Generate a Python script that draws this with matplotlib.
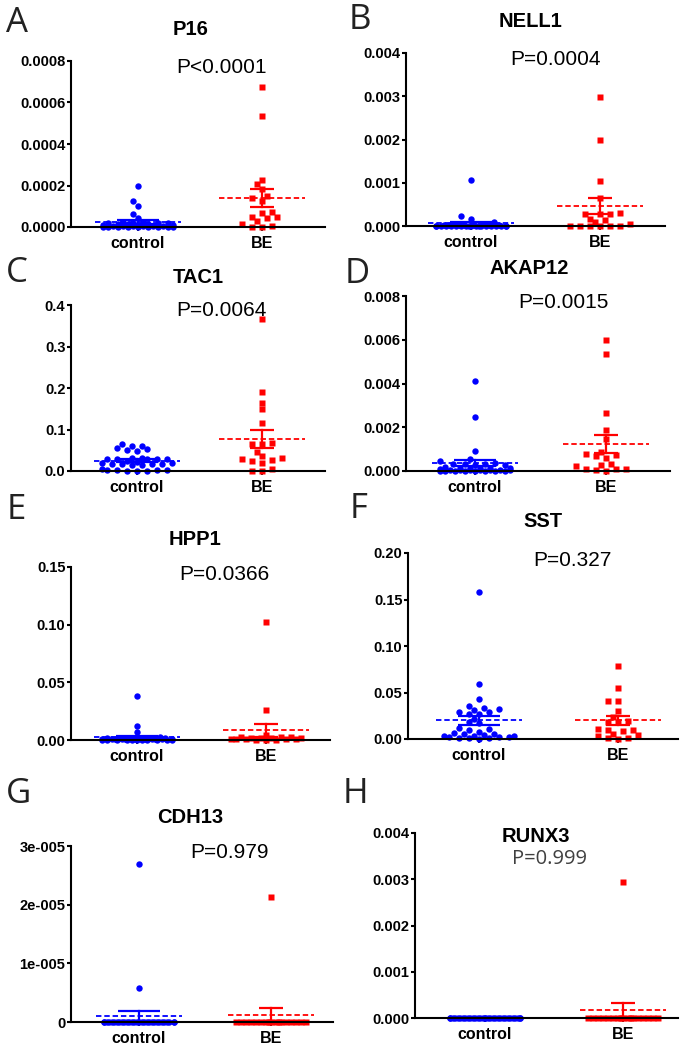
import numpy as np
import matplotlib
matplotlib.use("Agg")
import matplotlib.pyplot as plt

plt.rcParams['font.family'] = ['Liberation Sans', 'DejaVu Sans']

# ---------------- data ----------------
genes = ["P16", "NELL1", "TAC1", "AKAP12", "HPP1", "SST", "CDH13", "RUNX3"]
letters = ["A", "B", "C", "D", "E", "F", "G", "H"]
pvals = ["P<0.0001", "P=0.0004", "P=0.0064", "P=0.0015",
         "P=0.0366", "P=0.327", "P=0.979", "P=0.999"]
groups = ["control", "BE"]

p16_control = [0.000199, 0.000127, 0.000101, 0.000063, 0.000045, 0.000025, 0.000022,
               0.00002, 0.00002, 0.000018, 0.000018, 0.000016, 0.000015, 0.000015,
               0.000012, 0.00001, 0.000008, 0.000006, 0.000005, 0.000004, 0.000004,
               0.000003, 0.000003, 0.000002, 0.000002, 0.000002, 0.000001, 0.000001,
               0.000001, 0.0, 0.0, 0.0]
p16_be = [0.000673, 0.000533, 0.000226, 0.000207, 0.000181, 0.000149, 0.000138,
          0.000125, 0.0000723, 0.0000659, 0.0000466, 0.000048, 0.0000418, 0.0000273,
          0.0000128, 0.000005, 0.0, 0.000002]

nell1_control = [0.001056, 0.000224, 0.000162, 0.0001, 0.00005, 0.00004, 0.00003, 0.00003,
                 0.00002, 0.00002, 0.00002, 0.00002, 0.00002,
                 0.00001, 0.00001, 0.00001, 0.00001, 0.00001, 0.00001, 0.00001,
                 0.000005, 0.000005, 0.000005, 0.000005, 0.000005, 0.000005,
                 0.0, 0.0, 0.0, 0.0, 0.0, 0.0]
nell1_be = [0.002975, 0.00198, 0.001048, 0.000655, 0.000285, 0.00028, 0.000285, 0.00029,
            0.000146, 0.00017, 0.00009, 0.00004, 0.00001, 0.00001, 0.000005, 0.00001,
            0.000005, 0.0]

tac1_control = [0.064, 0.061, 0.06, 0.055, 0.052, 0.05, 0.048,
                0.032, 0.031, 0.03, 0.03, 0.029, 0.028, 0.03,
                0.02, 0.018, 0.017, 0.016, 0.015, 0.014, 0.018, 0.02,
                0.002, 0.001, 0.003, 0.002, 0.001, 0.002, 0.001,
                0.024, 0.022, 0.005]
tac1_be = [0.366, 0.19, 0.165, 0.15, 0.116, 0.068, 0.065, 0.065, 0.046, 0.031, 0.035,
           0.02, 0.026, 0.028, 0.025, 0.006, 0.0, 0.0]

akap12_control = [0.00411, 0.00247, 0.00093, 0.00055, 0.00045,
                  0.00035, 0.00032, 0.0003, 0.0003, 0.00028, 0.00026,
                  0.00018, 0.00016, 0.00015, 0.00014, 0.00013, 0.00012,
                  0.00007, 0.00006, 0.00005, 0.00005, 0.00004, 0.00004, 0.00003, 0.00003,
                  0.00002, 0.00001, 0.00001, 0.00001, 0.0, 0.0, 0.0, 0.0]
akap12_be = [0.00599, 0.00536, 0.00267, 0.00186, 0.00148, 0.00079, 0.00069, 0.00075,
             0.00085, 0.0006, 0.00034, 0.00026, 0.00021, 0.0001, 0.00008, 0.0001, 0.0,
             0.00006]

hpp1_control = [0.0385, 0.0125, 0.0072, 0.0025, 0.002, 0.002, 0.0018, 0.0016, 0.0015,
                0.0014, 0.0012, 0.0012, 0.001, 0.001, 0.0009, 0.0008, 0.0008, 0.0007,
                0.0006, 0.0005, 0.0005, 0.0004, 0.0004, 0.0003, 0.0003, 0.0002, 0.0002,
                0.0001, 0.0001, 0.0, 0.0, 0.0]
hpp1_be = [0.102, 0.026, 0.004, 0.003, 0.003, 0.0025, 0.002, 0.002, 0.0015, 0.0015,
           0.001, 0.001, 0.0008, 0.0005, 0.0005, 0.0003, 0.0002, 0.0]

sst_control = [0.158, 0.059, 0.043, 0.035, 0.033, 0.0325, 0.031, 0.029, 0.029, 0.027,
               0.027, 0.022, 0.018, 0.017, 0.012, 0.011, 0.010, 0.008, 0.006, 0.0057,
               0.005, 0.004, 0.003, 0.003, 0.002, 0.002, 0.001, 0.001, 0.001, 0.0005,
               0.002, 0.003]
sst_be = [0.078, 0.055, 0.041, 0.041, 0.030, 0.024, 0.019, 0.018, 0.018, 0.010, 0.010,
          0.011, 0.0086, 0.004, 0.001, 0.0, 0.001, 0.003, 0.0057]

cdh13_control = [2.69e-5, 5.75e-6] + [0.0] * 30
cdh13_be = [2.13e-5] + [0.0] * 17

runx3_control = [0.0] * 32
runx3_be = [0.00295] + [0.0] * 17

controls = [p16_control, nell1_control, tac1_control, akap12_control,
            hpp1_control, sst_control, cdh13_control, runx3_control]
bes = [p16_be, nell1_be, tac1_be, akap12_be, hpp1_be, sst_be, cdh13_be, runx3_be]

ymax = [0.0008, 0.004, 0.4, 0.008, 0.15, 0.20, 3e-5, 0.004]
ystep = [0.0002, 0.001, 0.1, 0.002, 0.05, 0.05, 1e-5, 0.001]
ydec = [4, 3, 1, 3, 2, 2, None, 3]
cdh13_ticklabels = ["0", "1e-005", "2e-005", "3e-005"]

# ---------------- layout (pixels) ----------------
FW, FH = 691, 1050
boxes = [(71, 325, 61, 227), (406, 665, 53, 226), (71, 325, 305, 471), (406, 670, 296, 471),
         (71, 330, 567, 740), (408, 678, 553, 739), (71, 333, 846, 1022), (415, 678, 833, 1018)]
cat_px = [(138, 262), (471, 600), (137, 262), (475, 606), (137, 266), (479, 618),
          (139, 271), (485, 623)]
title_pos = [(191, 35), (531, 27), (198, 283), (529, 274), (195, 545), (543, 527),
             (190, 823), (536, 842)]
p_pos = [(222, 73), (556, 65), (221, 316), (563, 308), (224, 580), (572, 566),
         (229, 858), (550, 864)]
letter_pos = [(6, 32), (349, 29), (6, 282), (345, 283), (7, 519), (350, 518),
              (6, 803), (343, 803)]

colors = ["#0000FF", "#FF0000"]
markers = ["o", "s"]
msizes = [4.6, 4.3]
cap_half = [21, 12]
mean_half = 43

fig = plt.figure(figsize=(FW / 100, FH / 100), dpi=100)


def swarm(vals, vmax, h_px, d=6.0, step=5.0, half=36.0):
    v = np.asarray(vals, float)
    y = v / vmax * h_px
    order = np.argsort(y, kind="stable")
    cands = [0.0]
    k = 1
    while k * step <= half:
        cands += [-k * step, k * step]
        k += 1
    fine = [0.0]
    k = 1
    while k * step / 2 <= half:
        fine += [-k * step / 2, k * step / 2]
        k += 1
    px, py = [], []
    off = np.zeros(len(v))

    def cost_of(c, yy):
        cost = 0.0
        for qx, qy in zip(px, py):
            dist = np.hypot(c - qx, yy - qy)
            if dist < d:
                cost += d - dist
        return cost

    for i in order:
        best = None
        for c in cands:
            if cost_of(c, y[i]) == 0:
                best = c
                break
        if best is None:
            costs = [cost_of(c, y[i]) for c in fine]
            best = fine[int(np.argmin(costs))]
        off[i] = best
        px.append(best)
        py.append(y[i])
    return off


for p in range(8):
    x0, x1, yt, yz = boxes[p]
    ax = fig.add_axes([x0 / FW, 1 - yz / FH, (x1 - x0) / FW, (yz - yt) / FH])
    c, b = cat_px[p]
    unit = b - c
    xmin = -(c - x0) / unit
    xmax = (x1 - c) / unit
    ax.set_xlim(xmin, xmax)
    ax.set_ylim(0, ymax[p])
    s = (xmax - xmin) / (x1 - x0)  # data units per pixel
    h_px = yz - yt

    for gi, vals in enumerate([controls[p], bes[p]]):
        v = np.asarray(vals, float)
        off = swarm(v, ymax[p], h_px) * s
        ax.plot(gi + off, v, linestyle="none", marker=markers[gi], ms=msizes[gi],
                color=colors[gi], mec="none", clip_on=False, zorder=2)
        m = v.mean()
        sem = v.std(ddof=1) / np.sqrt(len(v))
        ax.plot([gi - mean_half * s, gi + mean_half * s], [m, m], color=colors[gi],
                lw=1.3, ls=(0, (3.0, 1.6)), clip_on=False, zorder=3)
        ax.plot([gi, gi], [max(m - sem, 0), m + sem], color=colors[gi], lw=1.6,
                clip_on=False, zorder=3)
        for yy in (m - sem, m + sem):
            if yy >= 0:
                ax.plot([gi - cap_half[gi] * s, gi + cap_half[gi] * s], [yy, yy],
                        color=colors[gi], lw=1.6, clip_on=False, zorder=3,
                        solid_capstyle="butt")

    for sp in ["top", "right"]:
        ax.spines[sp].set_visible(False)
    for sp in ["left", "bottom"]:
        ax.spines[sp].set_linewidth(1.5)
        ax.spines[sp].set_zorder(4)

    ticks = np.arange(0, ymax[p] + ystep[p] / 2, ystep[p])
    ax.set_yticks(ticks)
    if ydec[p] is None:
        ax.set_yticklabels(cdh13_ticklabels)
    else:
        ax.set_yticklabels([f"{t:.{ydec[p]}f}" for t in ticks])
    ax.set_xticks([0, 1])
    ax.set_xticklabels(groups)
    ax.tick_params(axis="y", length=3, width=1.5, pad=1, labelsize=10.5)
    ax.tick_params(axis="x", length=3, width=1.2, pad=3.5, labelsize=11.5)
    for lab in ax.get_yticklabels() + ax.get_xticklabels():
        lab.set_fontweight("bold")
    ax.patch.set_visible(False)

    tx, ty = title_pos[p]
    fig.text(tx / FW, 1 - ty / FH, genes[p], ha="center", va="baseline",
             fontsize=14.5, fontweight="bold")
    px_, py_ = p_pos[p]
    if p == 7:
        fig.text(px_ / FW, 1 - py_ / FH, pvals[p], ha="center", va="baseline",
                 fontsize=14.5, family=["Open Sans", "DejaVu Sans"], color="#404040")
    else:
        fig.text(px_ / FW, 1 - py_ / FH, pvals[p], ha="center", va="baseline",
                 fontsize=15)
    lx, ly = letter_pos[p]
    fig.text(lx / FW, 1 - ly / FH, letters[p], ha="left", va="baseline",
             fontsize=25, family=["Open Sans", "DejaVu Sans"], color="#222222")

fig.savefig("out.png", dpi=100)
